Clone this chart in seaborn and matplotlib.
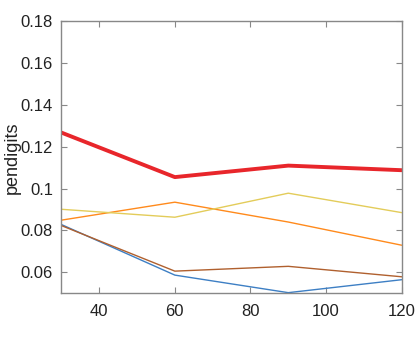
import pandas as pd
import numpy as np
import matplotlib
matplotlib.use("Agg")
import matplotlib.pyplot as plt
import seaborn as sns

# valeurs
x_vals = [30, 60, 90, 120]
red_vals = [0.1268, 0.1055, 0.1110, 0.1088]
yellow_vals = [0.0901, 0.0863, 0.0978, 0.0885]
orange_vals = [0.0849, 0.0935, 0.0840, 0.0729]
brown_vals = [0.0823, 0.0605, 0.0628, 0.0578]
blue_vals = [0.0828, 0.0586, 0.0502, 0.0564]

series_names = ["blue", "brown", "orange", "yellow", "red"]
series_vals = [blue_vals, brown_vals, orange_vals, yellow_vals, red_vals]
colors = {"blue": "#3d7fc4", "brown": "#b0602e", "orange": "#ff8a1c",
          "yellow": "#e3cc5a", "red": "#e8262b"}
widths = {"blue": 1.0, "brown": 1.0, "orange": 1.0, "yellow": 1.0, "red": 2.8}

df = pd.DataFrame({
    "x": np.tile(x_vals, len(series_names)),
    "y": np.concatenate(series_vals),
    "serie": np.repeat(series_names, len(x_vals)),
})

sns.set_style("white")
plt.rcParams['font.family'] = ['Liberation Sans', 'DejaVu Sans']

fig, ax = plt.subplots(figsize=(4.15, 3.4), dpi=100)
for name in series_names:
    sub = df[df["serie"] == name]
    sns.lineplot(data=sub, x="x", y="y", color=colors[name],
                 linewidth=widths[name], ax=ax)

ax.set_xlim(30, 120)
ax.set_ylim(0.05, 0.18)
ax.set_xticks([40, 60, 80, 100, 120])
ax.set_yticks([0.06, 0.08, 0.1, 0.12, 0.14, 0.16, 0.18])
ax.set_yticklabels(["0.06", "0.08", "0.1", "0.12", "0.14", "0.16", "0.18"])
ax.set_xlabel("")
ax.set_ylabel("pendigits", fontsize=13, color="#222222", labelpad=0)
ax.tick_params(direction="in", length=4, width=0.8, colors="#888888",
               labelcolor="#222222", labelsize=12, top=True, right=True,
               bottom=True, left=True)
ax.tick_params(axis="x", pad=8)
ax.tick_params(axis="y", pad=6)
for sp in ax.spines.values():
    sp.set_color("#888888")
    sp.set_linewidth(1.0)

fig.subplots_adjust(left=0.148, right=0.968, top=0.937, bottom=0.138)
fig.savefig("out.png", dpi=100)
